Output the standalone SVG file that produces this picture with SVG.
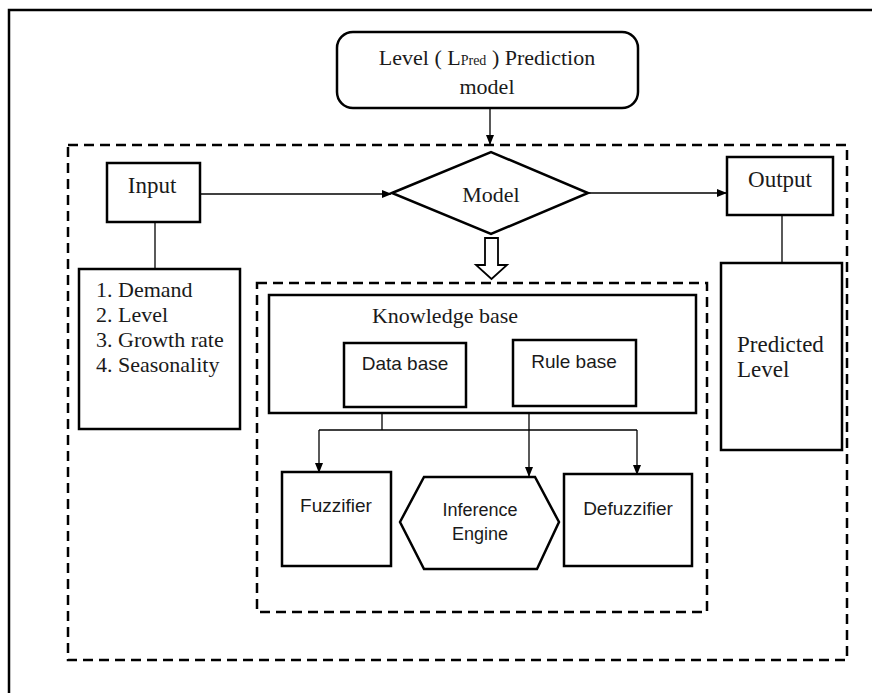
<svg xmlns="http://www.w3.org/2000/svg" width="872" height="693" viewBox="0 0 872 693">
<defs>
<marker id="arr" markerWidth="10" markerHeight="10" refX="9" refY="5" orient="auto" markerUnits="userSpaceOnUse">
<path d="M0,1 L10,5 L0,9 Z" fill="#000"/>
</marker>
<style>
.box{fill:#fff;stroke:#000;stroke-width:2.5}
.dash{fill:none;stroke:#000;stroke-width:2.5;stroke-dasharray:10 6}
.ln{fill:none;stroke:#000;stroke-width:1.3}
.serif{font-family:"Liberation Serif","Times New Roman",serif;fill:#1a1a1a}
.sans{font-family:"Liberation Sans",Arial,sans-serif;fill:#1a1a1a}
</style>
</defs>
<rect width="872" height="693" fill="#fff"/>
<rect x="9" y="10" width="900" height="720" fill="none" stroke="#000" stroke-width="2.5"/>
<g id="outer-frame"><rect class="dash" x="68" y="145" width="779" height="515"/></g>
<g id="inner-frame"><rect class="dash" x="257" y="283" width="450" height="329"/></g>

<g id="connectors">
<line class="ln" x1="490" y1="108" x2="490" y2="144" marker-end="url(#arr)"/>
<line class="ln" x1="200" y1="194" x2="391" y2="194" marker-end="url(#arr)"/>
<line class="ln" x1="588" y1="193" x2="726" y2="193" marker-end="url(#arr)"/>
<line class="ln" x1="155" y1="222" x2="155" y2="269"/>
<line class="ln" x1="782" y1="215" x2="782" y2="263"/>
<polygon points="485,238 498,238 498,265 507,265 491.5,279 476,265 485,265" fill="#fff" stroke="#000" stroke-width="1.8"/>
<line class="ln" x1="382" y1="407" x2="382" y2="430"/>
<line class="ln" x1="319" y1="430" x2="637" y2="430"/>
<line class="ln" x1="319" y1="430" x2="319" y2="472" marker-end="url(#arr)"/>
<line class="ln" x1="637" y1="430" x2="637" y2="474" marker-end="url(#arr)"/>
<line class="ln" x1="529" y1="406" x2="529" y2="476" marker-end="url(#arr)"/>
</g>

<g id="title">
<rect class="box" x="337" y="32" width="301" height="76" rx="16" ry="16"/>
<text class="serif" x="487" y="65" font-size="22" text-anchor="middle">Level ( L<tspan font-size="14">Pred</tspan> ) Prediction</text>
<text class="serif" x="487" y="94" font-size="22" text-anchor="middle">model</text>
</g>

<g id="input">
<rect class="box" x="107" y="163" width="93" height="59"/>
<text class="serif" x="152" y="193" font-size="23" text-anchor="middle">Input</text>
</g>

<g id="input-list">
<rect class="box" x="79" y="269" width="161" height="160"/>
<text class="serif" font-size="22">
<tspan x="96" y="297">1. Demand</tspan>
<tspan x="96" y="322">2. Level</tspan>
<tspan x="96" y="347">3. Growth rate</tspan>
<tspan x="96" y="372">4. Seasonality</tspan>
</text>
</g>

<g id="model">
<polygon class="box" points="392,193 491,152 588,193 491,234"/>
<text class="serif" x="491" y="202" font-size="22" text-anchor="middle">Model</text>
</g>

<g id="output">
<rect class="box" x="727" y="157" width="106" height="58"/>
<text class="serif" x="780" y="187" font-size="23" text-anchor="middle">Output</text>
</g>

<g id="predicted">
<rect class="box" x="721" y="263" width="121" height="187"/>
<text class="serif" font-size="23">
<tspan x="737" y="352">Predicted</tspan>
<tspan x="737" y="377">Level</tspan>
</text>
</g>

<g id="knowledge-base">
<rect class="box" x="269" y="295" width="427" height="118"/>
<text class="serif" x="445" y="323" font-size="22" text-anchor="middle">Knowledge base</text>
</g>

<g id="data-base">
<rect class="box" x="344" y="343" width="122" height="64"/>
<text class="sans" x="405" y="370" font-size="19" text-anchor="middle">Data base</text>
</g>

<g id="rule-base">
<rect class="box" x="513" y="340" width="123" height="66"/>
<text class="sans" x="574" y="368" font-size="19" text-anchor="middle">Rule base</text>
</g>

<g id="fuzzifier">
<rect class="box" x="282" y="472" width="109" height="94"/>
<text class="sans" x="336" y="512" font-size="19" text-anchor="middle">Fuzzifier</text>
</g>

<g id="inference-engine">
<polygon class="box" points="400,522 424,477 535,477 559,522 537,569 424,569"/>
<text class="sans" x="480" y="516" font-size="18" text-anchor="middle">Inference</text>
<text class="sans" x="480" y="540" font-size="18" text-anchor="middle">Engine</text>
</g>

<g id="defuzzifier">
<rect class="box" x="564" y="474" width="128" height="92"/>
<text class="sans" x="628" y="515" font-size="19" text-anchor="middle">Defuzzifier</text>
</g>
</svg>
